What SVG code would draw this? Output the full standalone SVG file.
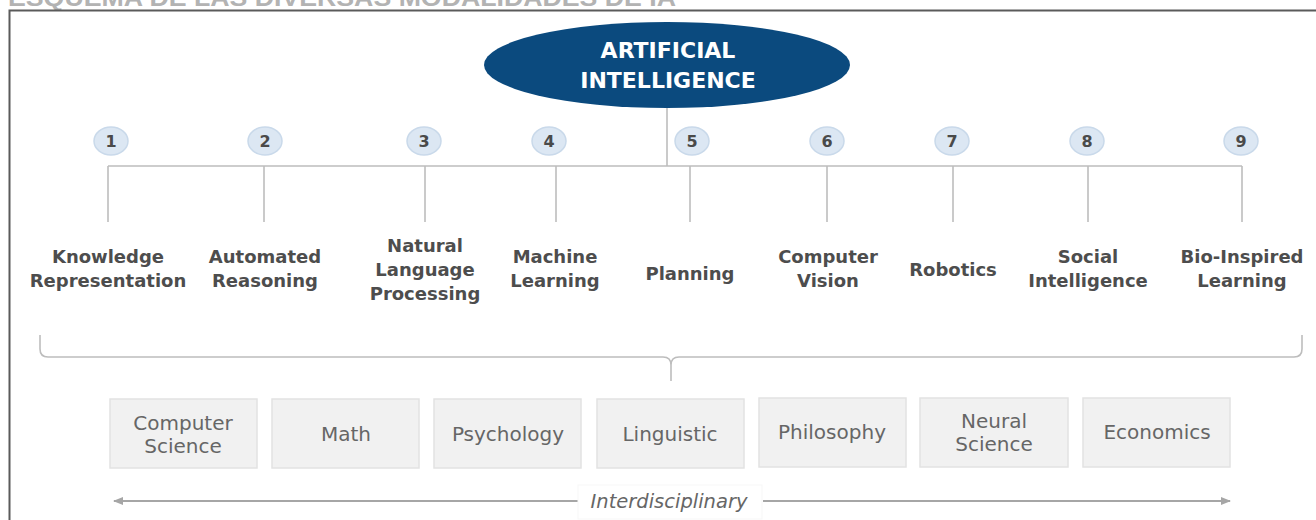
<svg xmlns="http://www.w3.org/2000/svg" width="1316" height="520" viewBox="0 0 1316 520">
<defs>
<style>
.title{font-family:"Liberation Sans",Arial,sans-serif;font-weight:bold;font-size:24px;fill:#b3b3b3}
.ai{font-family:"DejaVu Sans",sans-serif;font-weight:bold;font-size:22px;fill:#ffffff;text-anchor:middle}
.num{fill:#dce7f3;stroke:#c9d9ea;stroke-width:1.5}
.numt{font-family:"DejaVu Sans",sans-serif;font-weight:bold;font-size:16px;fill:#4a4a4a;text-anchor:middle}
.lbl{font-family:"DejaVu Sans",sans-serif;font-weight:bold;font-size:18px;fill:#4d4d4d;text-anchor:middle}
.box{fill:#f1f1f1;stroke:#e2e2e2;stroke-width:1.5}
.boxt{font-family:"DejaVu Sans",sans-serif;font-size:20px;fill:#666666;text-anchor:middle}
.conn{fill:none;stroke:#bdbdbd;stroke-width:1.6}
.arr{fill:none;stroke:#a6a6a6;stroke-width:2}
.it{font-family:"DejaVu Sans",sans-serif;font-style:italic;font-size:19.5px;fill:#666666;text-anchor:middle}
</style>
<marker id="ah" viewBox="0 0 10 10" refX="9" refY="5" markerWidth="5" markerHeight="5" orient="auto-start-reverse">
<path d="M0,1 L10,5 L0,9 Z" fill="#a6a6a6"/>
</marker>
</defs>
<rect x="0" y="0" width="1316" height="520" fill="#ffffff"/>
<text class="title" x="8" y="6" textLength="668" lengthAdjust="spacingAndGlyphs">ESQUEMA DE LAS DIVERSAS MODALIDADES DE IA</text>
<path d="M9.5,520 V10.5 H1316" fill="none" stroke="#5a5a5a" stroke-width="2"/>

<g id="connectors">
<path class="conn" d="M667,107 V166 M108,166 H1242 M108,166 V222 M264,166 V222 M425,166 V222 M556,166 V222 M690,166 V222 M827,166 V222 M953,166 V222 M1088,166 V222 M1242,166 V222"/>
<path class="conn" d="M40,335 L40,349 Q40,357 48,357 L663,357 Q671,357 671,365 L671,381 M671,365 Q671,357 679,357 L1294,357 Q1302,357 1302,349 L1302,335"/>
<path class="arr" d="M580,501 H114" marker-end="url(#ah)"/>
<path class="arr" d="M763,501 H1230" marker-end="url(#ah)"/>
</g>

<g id="ai">
<ellipse cx="667" cy="65" rx="183" ry="43" fill="#0b4a7e"/>
<text class="ai" x="668" y="58">ARTIFICIAL</text>
<text class="ai" x="668" y="88">INTELLIGENCE</text>
</g>

<g id="n1"><ellipse class="num" cx="111" cy="141" rx="17" ry="14"/><text class="numt" x="111" y="147">1</text>
<text class="lbl" x="108" y="263">Knowledge</text><text class="lbl" x="108" y="287">Representation</text></g>
<g id="n2"><ellipse class="num" cx="265" cy="141" rx="17" ry="14"/><text class="numt" x="265" y="147">2</text>
<text class="lbl" x="265" y="263">Automated</text><text class="lbl" x="265" y="287">Reasoning</text></g>
<g id="n3"><ellipse class="num" cx="424" cy="141" rx="17" ry="14"/><text class="numt" x="424" y="147">3</text>
<text class="lbl" x="425" y="252">Natural</text><text class="lbl" x="425" y="276">Language</text><text class="lbl" x="425" y="300">Processing</text></g>
<g id="n4"><ellipse class="num" cx="549" cy="141" rx="17" ry="14"/><text class="numt" x="549" y="147">4</text>
<text class="lbl" x="555" y="263">Machine</text><text class="lbl" x="555" y="287">Learning</text></g>
<g id="n5"><ellipse class="num" cx="692" cy="141" rx="17" ry="14"/><text class="numt" x="692" y="147">5</text>
<text class="lbl" x="690" y="280">Planning</text></g>
<g id="n6"><ellipse class="num" cx="827" cy="141" rx="17" ry="14"/><text class="numt" x="827" y="147">6</text>
<text class="lbl" x="828" y="263">Computer</text><text class="lbl" x="828" y="287">Vision</text></g>
<g id="n7"><ellipse class="num" cx="952" cy="141" rx="17" ry="14"/><text class="numt" x="952" y="147">7</text>
<text class="lbl" x="953" y="276">Robotics</text></g>
<g id="n8"><ellipse class="num" cx="1087" cy="141" rx="17" ry="14"/><text class="numt" x="1087" y="147">8</text>
<text class="lbl" x="1088" y="263">Social</text><text class="lbl" x="1088" y="287">Intelligence</text></g>
<g id="n9"><ellipse class="num" cx="1241" cy="141" rx="17" ry="14"/><text class="numt" x="1241" y="147">9</text>
<text class="lbl" x="1242" y="263">Bio-Inspired</text><text class="lbl" x="1242" y="287">Learning</text></g>

<g id="b1"><rect class="box" x="110" y="399" width="147" height="69"/><text class="boxt" x="183" y="430">Computer</text><text class="boxt" x="183" y="453">Science</text></g>
<g id="b2"><rect class="box" x="272" y="399" width="147" height="69"/><text class="boxt" x="346" y="441">Math</text></g>
<g id="b3"><rect class="box" x="434" y="399" width="147" height="69"/><text class="boxt" x="508" y="441">Psychology</text></g>
<g id="b4"><rect class="box" x="597" y="399" width="147" height="69"/><text class="boxt" x="670" y="441">Linguistic</text></g>
<g id="b5"><rect class="box" x="759" y="398" width="147" height="69"/><text class="boxt" x="832" y="439">Philosophy</text></g>
<g id="b6"><rect class="box" x="920" y="398" width="148" height="69"/><text class="boxt" x="994" y="428">Neural</text><text class="boxt" x="994" y="451">Science</text></g>
<g id="b7"><rect class="box" x="1083" y="398" width="147" height="69"/><text class="boxt" x="1157" y="439">Economics</text></g>

<g id="interdisciplinary">
<rect x="578" y="485" width="184" height="34" fill="#ffffff" stroke="#f7f7f7" stroke-width="1"/>
<text class="it" x="669" y="508">Interdisciplinary</text>
</g>
</svg>
